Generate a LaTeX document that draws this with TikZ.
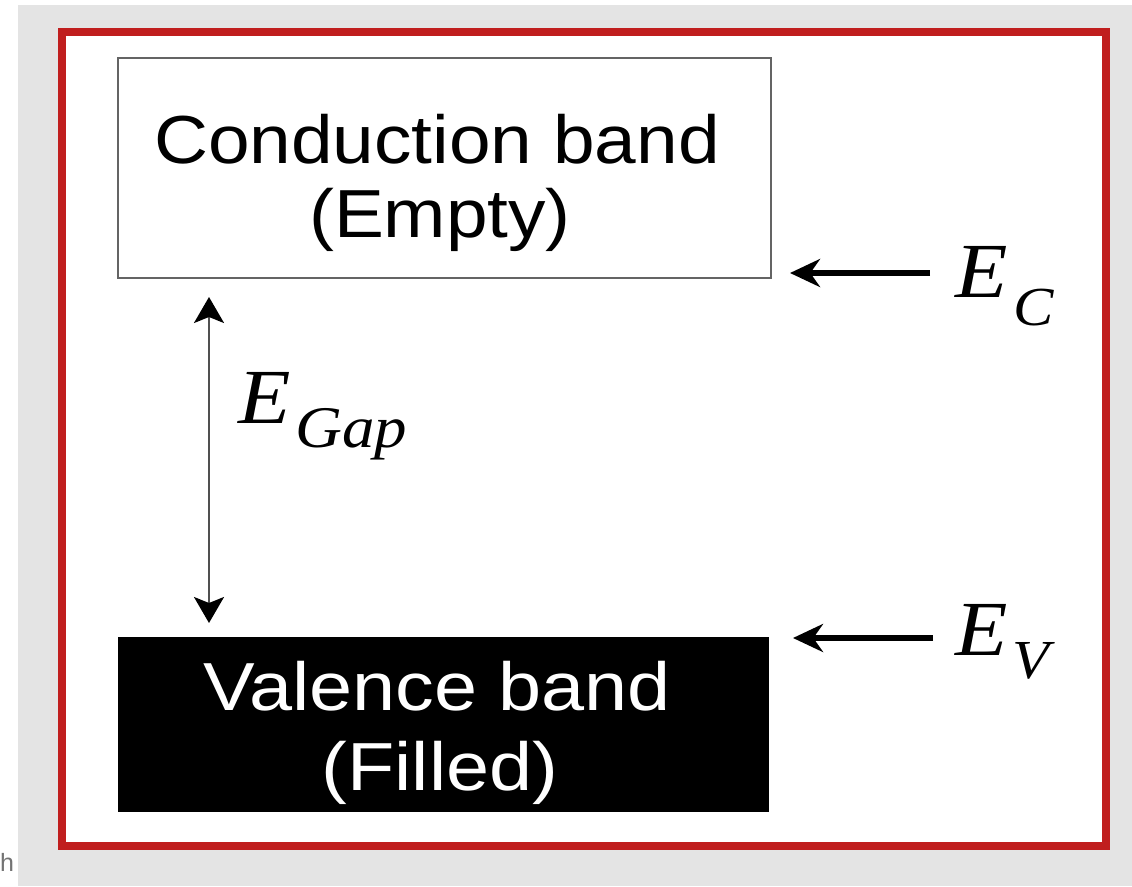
\documentclass[tikz,border=0pt]{standalone}
\usepackage{fontspec}
\setmainfont{Liberation Sans}
\newfontfamily\tms{Liberation Serif}
\usetikzlibrary{arrows.meta,calc}
\definecolor{bggray}{RGB}{228,228,228}
\definecolor{framered}{RGB}{192,30,30}
\definecolor{boxgray}{RGB}{100,100,100}
\definecolor{gapgray}{RGB}{80,80,80}
\begin{document}
\begin{tikzpicture}[x=1pt,y=-1pt,
  bandlbl/.style={inner sep=0pt, anchor=base, xscale=1.1, font=\fontsize{68}{68}\selectfont},
  elbl/.style={inner sep=0pt, anchor=base west, xscale=1.1, font=\tms\itshape\fontsize{78}{78}\selectfont},
  sublbl/.style={inner sep=0pt, anchor=base west, xscale=1.1, font=\tms\itshape\fontsize{55}{55}\selectfont},
  levelarrow/.style={line width=6pt, -{Stealth[length=30pt,width=28pt]}},
  gaphead/.style={},
  gaparrow/.style={line width=2.5pt, draw=gapgray, {Stealth[length=26pt,width=30pt,inset=6pt,black]}-{Stealth[length=26pt,width=30pt,inset=6pt,black]}}
]
\useasboundingbox (0,0) rectangle (1132,886);
\fill[white] (0,0) rectangle (1132,886);
\fill[bggray] (18,5) rectangle (1132,886);
\draw[framered, line width=8pt, fill=white] (62,32) rectangle (1106,846);

% bands
\node[draw=boxgray, line width=2.5pt, outer sep=0pt, minimum width=653pt, minimum height=220pt, inner sep=0pt, anchor=north west] (cb) at (118,58) {};
\node[fill=black, outer sep=0pt, minimum width=651pt, minimum height=175pt, inner sep=0pt, anchor=north west] (vb) at (118,637) {};

\node[bandlbl] (cbt1) at (437,163) {Conduction band};
\node[bandlbl] (cbt2) at (440,237) {(Empty)};
\node[bandlbl, xscale=1.035, text=white] (vbt1) at (437,710) {Valence band};
\node[bandlbl, xscale=1.035, text=white] (vbt2) at (440,790) {(Filled)};

% level labels
\node[elbl] (ec) at (955,297) {E};
\node[sublbl] (ecs) at (1013,325) {C};
\node[elbl] (ev) at (955,655) {E};
\node[sublbl] (evs) at (1012,678) {V};
\node[elbl] (eg) at (238,423) {E};
\node[sublbl, font=\tms\itshape\fontsize{59}{59}\selectfont] (egs) at (295,447) {Gap};

% level arrows
\coordinate (ecstart) at (930,273);
\coordinate (evstart) at (933,638);
\draw[levelarrow] (ecstart) -- ([xshift=19pt,yshift=5pt]cb.south east);
\draw[levelarrow] (evstart) -- ([xshift=24pt,yshift=-1pt]vb.north east);

% gap arrow
\draw[gaparrow] ($(cb.south west)+(91,19)$) -- ($(vb.north west)+(91,-14)$);

\node[anchor=base west, inner sep=0pt, text=black!55, font=\fontsize{25}{25}\selectfont] (hh) at (0,871) {h};
\end{tikzpicture}
\end{document}
